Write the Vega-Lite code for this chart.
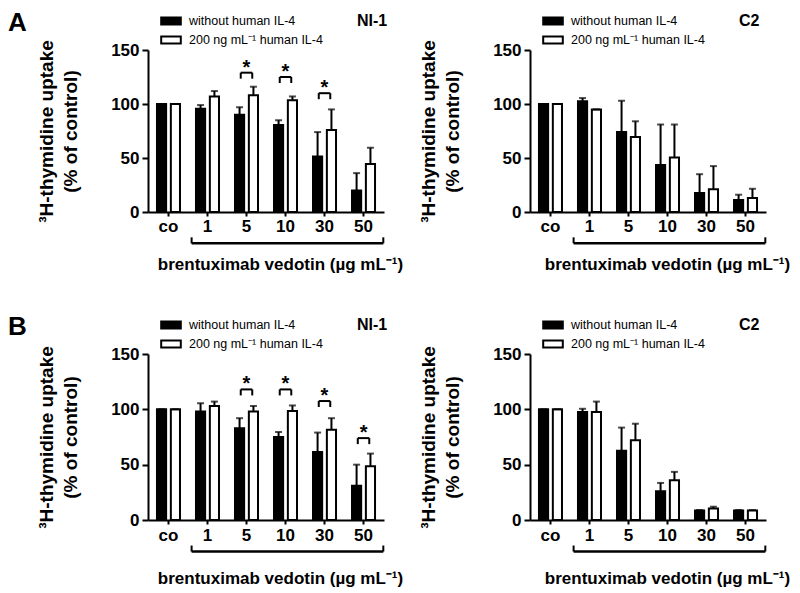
{
  "$schema": "https://vega.github.io/schema/vega-lite/v6.json",
  "padding": {"left": 8, "top": 10, "right": 5, "bottom": 5},
  "config": {
    "font": "Liberation Sans",
    "view": {"stroke": null},
    "axis": {"domainColor": "black", "domainWidth": 2, "tickColor": "black", "tickWidth": 2, "labelColor": "black", "labelFont": "Liberation Sans", "labelFontWeight": "bold", "labelFontSize": 17, "titleFont": "Liberation Sans", "titleFontWeight": "bold", "titleFontSize": 17, "titleColor": "black", "grid": false},
    "axisY": {"titleFontSize": 19},
    "legend": {"orient": "none", "legendX": 15, "legendY": -37, "titleOrient": "right", "titleAnchor": "start", "titleBaseline": "top", "titleFont": "Liberation Sans", "titleFontSize": 16, "titleFontWeight": "bold", "titleColor": "black", "titlePadding": 34, "labelFont": "Liberation Sans", "labelFontSize": 12.5, "labelColor": "black", "symbolType": "M-1.4,-0.5H1.4V0.5H-1.4Z", "symbolSize": 196, "symbolStrokeColor": "black", "symbolStrokeWidth": 2, "rowPadding": 3, "labelOffset": 10, "padding": 0}
  },
  "datasets": {
    "bars": [
      {"panel": "A-NI-1", "dose": "co", "treatment": "without human IL-4", "value": 100, "err": 100},
      {"panel": "A-NI-1", "dose": "co", "treatment": "200 ng mL⁻¹ human IL-4", "value": 100, "err": 100},
      {"panel": "A-NI-1", "dose": "1", "treatment": "without human IL-4", "value": 95.5, "err": 99},
      {"panel": "A-NI-1", "dose": "1", "treatment": "200 ng mL⁻¹ human IL-4", "value": 107, "err": 112},
      {"panel": "A-NI-1", "dose": "5", "treatment": "without human IL-4", "value": 90, "err": 97},
      {"panel": "A-NI-1", "dose": "5", "treatment": "200 ng mL⁻¹ human IL-4", "value": 108, "err": 116},
      {"panel": "A-NI-1", "dose": "10", "treatment": "without human IL-4", "value": 80.5, "err": 85},
      {"panel": "A-NI-1", "dose": "10", "treatment": "200 ng mL⁻¹ human IL-4", "value": 103.5, "err": 107},
      {"panel": "A-NI-1", "dose": "30", "treatment": "without human IL-4", "value": 51.5, "err": 74},
      {"panel": "A-NI-1", "dose": "30", "treatment": "200 ng mL⁻¹ human IL-4", "value": 76, "err": 95},
      {"panel": "A-NI-1", "dose": "50", "treatment": "without human IL-4", "value": 20, "err": 36},
      {"panel": "A-NI-1", "dose": "50", "treatment": "200 ng mL⁻¹ human IL-4", "value": 44.5, "err": 59.5},
      {"panel": "A-C2", "dose": "co", "treatment": "without human IL-4", "value": 100, "err": 100},
      {"panel": "A-C2", "dose": "co", "treatment": "200 ng mL⁻¹ human IL-4", "value": 100, "err": 100},
      {"panel": "A-C2", "dose": "1", "treatment": "without human IL-4", "value": 102.5, "err": 105.5},
      {"panel": "A-C2", "dose": "1", "treatment": "200 ng mL⁻¹ human IL-4", "value": 95, "err": 95},
      {"panel": "A-C2", "dose": "5", "treatment": "without human IL-4", "value": 74, "err": 103},
      {"panel": "A-C2", "dose": "5", "treatment": "200 ng mL⁻¹ human IL-4", "value": 69.5, "err": 84},
      {"panel": "A-C2", "dose": "10", "treatment": "without human IL-4", "value": 43.5, "err": 81},
      {"panel": "A-C2", "dose": "10", "treatment": "200 ng mL⁻¹ human IL-4", "value": 50.5, "err": 81},
      {"panel": "A-C2", "dose": "30", "treatment": "without human IL-4", "value": 17.5, "err": 35},
      {"panel": "A-C2", "dose": "30", "treatment": "200 ng mL⁻¹ human IL-4", "value": 21, "err": 42.5},
      {"panel": "A-C2", "dose": "50", "treatment": "without human IL-4", "value": 11, "err": 16},
      {"panel": "A-C2", "dose": "50", "treatment": "200 ng mL⁻¹ human IL-4", "value": 13, "err": 21.5},
      {"panel": "B-NI-1", "dose": "co", "treatment": "without human IL-4", "value": 100, "err": 100},
      {"panel": "B-NI-1", "dose": "co", "treatment": "200 ng mL⁻¹ human IL-4", "value": 100, "err": 100},
      {"panel": "B-NI-1", "dose": "1", "treatment": "without human IL-4", "value": 98, "err": 105.5},
      {"panel": "B-NI-1", "dose": "1", "treatment": "200 ng mL⁻¹ human IL-4", "value": 103, "err": 107},
      {"panel": "B-NI-1", "dose": "5", "treatment": "without human IL-4", "value": 83, "err": 92},
      {"panel": "B-NI-1", "dose": "5", "treatment": "200 ng mL⁻¹ human IL-4", "value": 98, "err": 103},
      {"panel": "B-NI-1", "dose": "10", "treatment": "without human IL-4", "value": 75, "err": 79.5},
      {"panel": "B-NI-1", "dose": "10", "treatment": "200 ng mL⁻¹ human IL-4", "value": 98.5, "err": 103.5},
      {"panel": "B-NI-1", "dose": "30", "treatment": "without human IL-4", "value": 61.5, "err": 79},
      {"panel": "B-NI-1", "dose": "30", "treatment": "200 ng mL⁻¹ human IL-4", "value": 81.5, "err": 92},
      {"panel": "B-NI-1", "dose": "50", "treatment": "without human IL-4", "value": 31, "err": 50},
      {"panel": "B-NI-1", "dose": "50", "treatment": "200 ng mL⁻¹ human IL-4", "value": 48.5, "err": 60},
      {"panel": "B-C2", "dose": "co", "treatment": "without human IL-4", "value": 100, "err": 100},
      {"panel": "B-C2", "dose": "co", "treatment": "200 ng mL⁻¹ human IL-4", "value": 100, "err": 100},
      {"panel": "B-C2", "dose": "1", "treatment": "without human IL-4", "value": 97.5, "err": 100.5},
      {"panel": "B-C2", "dose": "1", "treatment": "200 ng mL⁻¹ human IL-4", "value": 97.5, "err": 107},
      {"panel": "B-C2", "dose": "5", "treatment": "without human IL-4", "value": 62.5, "err": 83.5},
      {"panel": "B-C2", "dose": "5", "treatment": "200 ng mL⁻¹ human IL-4", "value": 72, "err": 87},
      {"panel": "B-C2", "dose": "10", "treatment": "without human IL-4", "value": 26, "err": 33.5},
      {"panel": "B-C2", "dose": "10", "treatment": "200 ng mL⁻¹ human IL-4", "value": 36, "err": 43.5},
      {"panel": "B-C2", "dose": "30", "treatment": "without human IL-4", "value": 8.5, "err": 9},
      {"panel": "B-C2", "dose": "30", "treatment": "200 ng mL⁻¹ human IL-4", "value": 10.5, "err": 12},
      {"panel": "B-C2", "dose": "50", "treatment": "without human IL-4", "value": 8.5, "err": 9},
      {"panel": "B-C2", "dose": "50", "treatment": "200 ng mL⁻¹ human IL-4", "value": 8.5, "err": 9}
    ],
    "sig": [
      {"panel": "A-NI-1", "dose": "5", "level": 129},
      {"panel": "A-NI-1", "dose": "10", "level": 125},
      {"panel": "A-NI-1", "dose": "30", "level": 110},
      {"panel": "B-NI-1", "dose": "5", "level": 118},
      {"panel": "B-NI-1", "dose": "10", "level": 118},
      {"panel": "B-NI-1", "dose": "30", "level": 107.5},
      {"panel": "B-NI-1", "dose": "50", "level": 74}
    ],
    "span": [{"from": "1", "to": "50"}]
  },
  "columns": 2,
  "bounds": "flush",
  "spacing": {"row": 142, "column": 146},
  "resolve": {"scale": {"fill": "independent", "x": "independent", "y": "independent", "xOffset": "independent"}, "legend": {"fill": "independent"}},
  "concat": [
    {
      "width": 236, "height": 162,
      "title": {"text": "A", "anchor": "start", "frame": "group", "fontSize": 26, "fontWeight": "bold", "font": "Liberation Sans", "color": "black", "dx": -140, "dy": 33, "offset": -16, "baseline": "bottom"},
      "layer": [
        {"data": {"name": "bars"}, "transform": [{"filter": "datum.panel === 'A-NI-1'"}],
         "mark": {"type": "bar", "stroke": "black", "strokeWidth": 2},
         "encoding": {
           "x": {"field": "dose", "type": "nominal", "scale": {"domain": ["co", "1", "5", "10", "30", "50"], "paddingInner": 0.41, "paddingOuter": 0.23}, "axis": {"title": "brentuximab vedotin (µg mL⁻¹)", "labelAngle": 0, "tickSize": 4, "labelPadding": 2, "titlePadding": 22, "titleX": 132}},
           "xOffset": {"field": "treatment", "type": "nominal", "scale": {"domain": ["without human IL-4", "200 ng mL⁻¹ human IL-4"], "paddingInner": 0.34}},
           "y": {"field": "value", "type": "quantitative", "scale": {"domain": [0, 150], "nice": false}, "axis": {"title": ["³H-thymidine uptake", "(% of control)"], "values": [0, 50, 100, 150], "tickSize": 6, "labelPadding": 3, "titlePadding": 30, "titleLineHeight": 24}},
           "fill": {"field": "treatment", "type": "nominal", "scale": {"domain": ["without human IL-4", "200 ng mL⁻¹ human IL-4"], "range": ["black", "white"]}, "legend": {"title": "NI-1"}}
         }},
        {"data": {"name": "bars"}, "transform": [{"filter": "datum.panel === 'A-NI-1'"}],
         "mark": {"type": "rule", "strokeWidth": 2, "color": "black"},
         "encoding": {"x": {"field": "dose", "type": "nominal"}, "xOffset": {"field": "treatment", "type": "nominal"}, "y": {"field": "value", "type": "quantitative"}, "y2": {"field": "err"}}},
        {"data": {"name": "bars"}, "transform": [{"filter": "datum.panel === 'A-NI-1'"}],
         "mark": {"type": "tick", "size": 7, "thickness": 2, "color": "black"},
         "encoding": {"x": {"field": "dose", "type": "nominal"}, "xOffset": {"field": "treatment", "type": "nominal"}, "y": {"field": "err", "type": "quantitative"}}},
        {"data": {"name": "sig"}, "transform": [{"filter": "datum.panel === 'A-NI-1'"}],
         "mark": {"type": "rule", "strokeWidth": 2, "color": "black"},
         "encoding": {"x": {"field": "dose", "type": "nominal", "bandPosition": 0.25}, "x2": {"field": "dose", "bandPosition": 0.75}, "y": {"field": "level", "type": "quantitative"}}},
        {"data": {"name": "sig"}, "transform": [{"filter": "datum.panel === 'A-NI-1'"}],
         "mark": {"type": "rule", "strokeWidth": 2, "color": "black", "y2Offset": 6},
         "encoding": {"x": {"field": "dose", "type": "nominal", "bandPosition": 0.25}, "y": {"field": "level", "type": "quantitative"}, "y2": {"field": "level"}}},
        {"data": {"name": "sig"}, "transform": [{"filter": "datum.panel === 'A-NI-1'"}],
         "mark": {"type": "rule", "strokeWidth": 2, "color": "black", "y2Offset": 6},
         "encoding": {"x": {"field": "dose", "type": "nominal", "bandPosition": 0.75}, "y": {"field": "level", "type": "quantitative"}, "y2": {"field": "level"}}},
        {"data": {"name": "sig"}, "transform": [{"filter": "datum.panel === 'A-NI-1'"}],
         "mark": {"type": "text", "text": "*", "fontSize": 20, "fontWeight": "bold", "baseline": "alphabetic", "dy": 1, "color": "black"},
         "encoding": {"x": {"field": "dose", "type": "nominal", "bandPosition": 0.5}, "y": {"field": "level", "type": "quantitative"}}},
        {"data": {"name": "span"},
         "mark": {"type": "rule", "strokeWidth": 2.5, "color": "black"},
         "encoding": {"x": {"field": "from", "type": "nominal", "bandPosition": -0.19}, "x2": {"field": "to", "bandPosition": 1.36}, "y": {"datum": -29}}},
        {"data": {"name": "span"},
         "mark": {"type": "rule", "strokeWidth": 2, "color": "black", "y2Offset": -6},
         "encoding": {"x": {"field": "from", "type": "nominal", "bandPosition": -0.19}, "y": {"datum": -29}, "y2": {"datum": -29}}},
        {"data": {"name": "span"},
         "mark": {"type": "rule", "strokeWidth": 2, "color": "black", "y2Offset": -6},
         "encoding": {"x": {"field": "to", "type": "nominal", "bandPosition": 1.36}, "y": {"datum": -29}, "y2": {"datum": -29}}}
      ]
    },
    {
      "width": 236, "height": 162,
      "layer": [
        {"data": {"name": "bars"}, "transform": [{"filter": "datum.panel === 'A-C2'"}],
         "mark": {"type": "bar", "stroke": "black", "strokeWidth": 2},
         "encoding": {
           "x": {"field": "dose", "type": "nominal", "scale": {"domain": ["co", "1", "5", "10", "30", "50"], "paddingInner": 0.41, "paddingOuter": 0.23}, "axis": {"title": "brentuximab vedotin (µg mL⁻¹)", "labelAngle": 0, "tickSize": 4, "labelPadding": 2, "titlePadding": 22, "titleX": 137}},
           "xOffset": {"field": "treatment", "type": "nominal", "scale": {"domain": ["without human IL-4", "200 ng mL⁻¹ human IL-4"], "paddingInner": 0.34}},
           "y": {"field": "value", "type": "quantitative", "scale": {"domain": [0, 150], "nice": false}, "axis": {"title": ["³H-thymidine uptake", "(% of control)"], "values": [0, 50, 100, 150], "tickSize": 6, "labelPadding": 3, "titlePadding": 30, "titleLineHeight": 24}},
           "fill": {"field": "treatment", "type": "nominal", "scale": {"domain": ["without human IL-4", "200 ng mL⁻¹ human IL-4"], "range": ["black", "white"]}, "legend": {"title": "C2"}}
         }},
        {"data": {"name": "bars"}, "transform": [{"filter": "datum.panel === 'A-C2'"}],
         "mark": {"type": "rule", "strokeWidth": 2, "color": "black"},
         "encoding": {"x": {"field": "dose", "type": "nominal"}, "xOffset": {"field": "treatment", "type": "nominal"}, "y": {"field": "value", "type": "quantitative"}, "y2": {"field": "err"}}},
        {"data": {"name": "bars"}, "transform": [{"filter": "datum.panel === 'A-C2'"}],
         "mark": {"type": "tick", "size": 7, "thickness": 2, "color": "black"},
         "encoding": {"x": {"field": "dose", "type": "nominal"}, "xOffset": {"field": "treatment", "type": "nominal"}, "y": {"field": "err", "type": "quantitative"}}},
        {"data": {"name": "span"},
         "mark": {"type": "rule", "strokeWidth": 2.5, "color": "black"},
         "encoding": {"x": {"field": "from", "type": "nominal", "bandPosition": -0.19}, "x2": {"field": "to", "bandPosition": 1.36}, "y": {"datum": -29}}},
        {"data": {"name": "span"},
         "mark": {"type": "rule", "strokeWidth": 2, "color": "black", "y2Offset": -6},
         "encoding": {"x": {"field": "from", "type": "nominal", "bandPosition": -0.19}, "y": {"datum": -29}, "y2": {"datum": -29}}},
        {"data": {"name": "span"},
         "mark": {"type": "rule", "strokeWidth": 2, "color": "black", "y2Offset": -6},
         "encoding": {"x": {"field": "to", "type": "nominal", "bandPosition": 1.36}, "y": {"datum": -29}, "y2": {"datum": -29}}}
      ]
    },
    {
      "width": 236, "height": 166,
      "title": {"text": "B", "anchor": "start", "frame": "group", "fontSize": 26, "fontWeight": "bold", "font": "Liberation Sans", "color": "black", "dx": -140, "dy": 33, "offset": -16, "baseline": "bottom"},
      "layer": [
        {"data": {"name": "bars"}, "transform": [{"filter": "datum.panel === 'B-NI-1'"}],
         "mark": {"type": "bar", "stroke": "black", "strokeWidth": 2},
         "encoding": {
           "x": {"field": "dose", "type": "nominal", "scale": {"domain": ["co", "1", "5", "10", "30", "50"], "paddingInner": 0.41, "paddingOuter": 0.23}, "axis": {"title": "brentuximab vedotin (µg mL⁻¹)", "labelAngle": 0, "tickSize": 4, "labelPadding": 3, "titlePadding": 27, "titleX": 132}},
           "xOffset": {"field": "treatment", "type": "nominal", "scale": {"domain": ["without human IL-4", "200 ng mL⁻¹ human IL-4"], "paddingInner": 0.34}},
           "y": {"field": "value", "type": "quantitative", "scale": {"domain": [0, 150], "nice": false}, "axis": {"title": ["³H-thymidine uptake", "(% of control)"], "values": [0, 50, 100, 150], "tickSize": 6, "labelPadding": 3, "titlePadding": 30, "titleLineHeight": 24}},
           "fill": {"field": "treatment", "type": "nominal", "scale": {"domain": ["without human IL-4", "200 ng mL⁻¹ human IL-4"], "range": ["black", "white"]}, "legend": {"title": "NI-1"}}
         }},
        {"data": {"name": "bars"}, "transform": [{"filter": "datum.panel === 'B-NI-1'"}],
         "mark": {"type": "rule", "strokeWidth": 2, "color": "black"},
         "encoding": {"x": {"field": "dose", "type": "nominal"}, "xOffset": {"field": "treatment", "type": "nominal"}, "y": {"field": "value", "type": "quantitative"}, "y2": {"field": "err"}}},
        {"data": {"name": "bars"}, "transform": [{"filter": "datum.panel === 'B-NI-1'"}],
         "mark": {"type": "tick", "size": 7, "thickness": 2, "color": "black"},
         "encoding": {"x": {"field": "dose", "type": "nominal"}, "xOffset": {"field": "treatment", "type": "nominal"}, "y": {"field": "err", "type": "quantitative"}}},
        {"data": {"name": "sig"}, "transform": [{"filter": "datum.panel === 'B-NI-1'"}],
         "mark": {"type": "rule", "strokeWidth": 2, "color": "black"},
         "encoding": {"x": {"field": "dose", "type": "nominal", "bandPosition": 0.25}, "x2": {"field": "dose", "bandPosition": 0.75}, "y": {"field": "level", "type": "quantitative"}}},
        {"data": {"name": "sig"}, "transform": [{"filter": "datum.panel === 'B-NI-1'"}],
         "mark": {"type": "rule", "strokeWidth": 2, "color": "black", "y2Offset": 6},
         "encoding": {"x": {"field": "dose", "type": "nominal", "bandPosition": 0.25}, "y": {"field": "level", "type": "quantitative"}, "y2": {"field": "level"}}},
        {"data": {"name": "sig"}, "transform": [{"filter": "datum.panel === 'B-NI-1'"}],
         "mark": {"type": "rule", "strokeWidth": 2, "color": "black", "y2Offset": 6},
         "encoding": {"x": {"field": "dose", "type": "nominal", "bandPosition": 0.75}, "y": {"field": "level", "type": "quantitative"}, "y2": {"field": "level"}}},
        {"data": {"name": "sig"}, "transform": [{"filter": "datum.panel === 'B-NI-1'"}],
         "mark": {"type": "text", "text": "*", "fontSize": 20, "fontWeight": "bold", "baseline": "alphabetic", "dy": 1, "color": "black"},
         "encoding": {"x": {"field": "dose", "type": "nominal", "bandPosition": 0.5}, "y": {"field": "level", "type": "quantitative"}}},
        {"data": {"name": "span"},
         "mark": {"type": "rule", "strokeWidth": 2.5, "color": "black"},
         "encoding": {"x": {"field": "from", "type": "nominal", "bandPosition": -0.19}, "x2": {"field": "to", "bandPosition": 1.36}, "y": {"datum": -28.5}}},
        {"data": {"name": "span"},
         "mark": {"type": "rule", "strokeWidth": 2, "color": "black", "y2Offset": -6},
         "encoding": {"x": {"field": "from", "type": "nominal", "bandPosition": -0.19}, "y": {"datum": -28.5}, "y2": {"datum": -28.5}}},
        {"data": {"name": "span"},
         "mark": {"type": "rule", "strokeWidth": 2, "color": "black", "y2Offset": -6},
         "encoding": {"x": {"field": "to", "type": "nominal", "bandPosition": 1.36}, "y": {"datum": -28.5}, "y2": {"datum": -28.5}}}
      ]
    },
    {
      "width": 236, "height": 166,
      "layer": [
        {"data": {"name": "bars"}, "transform": [{"filter": "datum.panel === 'B-C2'"}],
         "mark": {"type": "bar", "stroke": "black", "strokeWidth": 2},
         "encoding": {
           "x": {"field": "dose", "type": "nominal", "scale": {"domain": ["co", "1", "5", "10", "30", "50"], "paddingInner": 0.41, "paddingOuter": 0.23}, "axis": {"title": "brentuximab vedotin (µg mL⁻¹)", "labelAngle": 0, "tickSize": 4, "labelPadding": 3, "titlePadding": 27, "titleX": 137}},
           "xOffset": {"field": "treatment", "type": "nominal", "scale": {"domain": ["without human IL-4", "200 ng mL⁻¹ human IL-4"], "paddingInner": 0.34}},
           "y": {"field": "value", "type": "quantitative", "scale": {"domain": [0, 150], "nice": false}, "axis": {"title": ["³H-thymidine uptake", "(% of control)"], "values": [0, 50, 100, 150], "tickSize": 6, "labelPadding": 3, "titlePadding": 30, "titleLineHeight": 24}},
           "fill": {"field": "treatment", "type": "nominal", "scale": {"domain": ["without human IL-4", "200 ng mL⁻¹ human IL-4"], "range": ["black", "white"]}, "legend": {"title": "C2"}}
         }},
        {"data": {"name": "bars"}, "transform": [{"filter": "datum.panel === 'B-C2'"}],
         "mark": {"type": "rule", "strokeWidth": 2, "color": "black"},
         "encoding": {"x": {"field": "dose", "type": "nominal"}, "xOffset": {"field": "treatment", "type": "nominal"}, "y": {"field": "value", "type": "quantitative"}, "y2": {"field": "err"}}},
        {"data": {"name": "bars"}, "transform": [{"filter": "datum.panel === 'B-C2'"}],
         "mark": {"type": "tick", "size": 7, "thickness": 2, "color": "black"},
         "encoding": {"x": {"field": "dose", "type": "nominal"}, "xOffset": {"field": "treatment", "type": "nominal"}, "y": {"field": "err", "type": "quantitative"}}},
        {"data": {"name": "span"},
         "mark": {"type": "rule", "strokeWidth": 2.5, "color": "black"},
         "encoding": {"x": {"field": "from", "type": "nominal", "bandPosition": -0.19}, "x2": {"field": "to", "bandPosition": 1.36}, "y": {"datum": -28.5}}},
        {"data": {"name": "span"},
         "mark": {"type": "rule", "strokeWidth": 2, "color": "black", "y2Offset": -6},
         "encoding": {"x": {"field": "from", "type": "nominal", "bandPosition": -0.19}, "y": {"datum": -28.5}, "y2": {"datum": -28.5}}},
        {"data": {"name": "span"},
         "mark": {"type": "rule", "strokeWidth": 2, "color": "black", "y2Offset": -6},
         "encoding": {"x": {"field": "to", "type": "nominal", "bandPosition": 1.36}, "y": {"datum": -28.5}, "y2": {"datum": -28.5}}}
      ]
    }
  ]
}
